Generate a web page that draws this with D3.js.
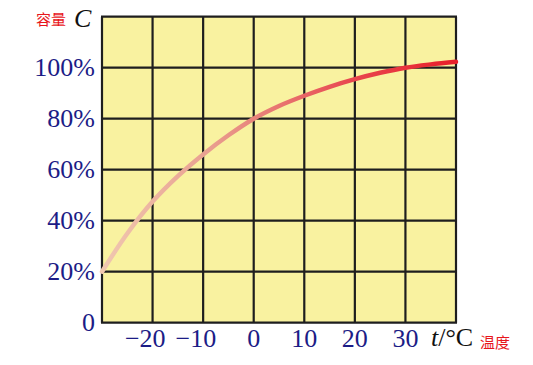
<!DOCTYPE html>
<html><head><meta charset="utf-8">
<script src="https://cdn.jsdelivr.net/npm/d3@7"></script>
<style>body{margin:0;background:#fff}svg{display:block}</style>
</head><body>
<script>
const temps = [-30,-25,-20,-15,-10,-5,0,5,10,15,20,25,30,35,40];
const capacity = [20,35,47.5,57.5,66,73.5,80,85,89,92.5,95.5,98,100,101.3,102.3];
const xTicks = [-20,-10,0,10,20,30];
const yTicks = [0,20,40,60,80,100];
const yTickLabels = ["0","20%","40%","60%","80%","100%"];

const W=533,H=365;
const svg=d3.select("body").append("svg").attr("width",W).attr("height",H);
const x=d3.scaleLinear().domain([-30,40]).range([102,456]);
const y=d3.scaleLinear().domain([0,120]).range([322.7,16.7]);

svg.append("rect").attr("x",x(-30)).attr("y",y(120)).attr("width",x(40)-x(-30)).attr("height",y(0)-y(120)).attr("fill","#f9f2a0");

const g=svg.append("g").attr("stroke","#1e1e1e").attr("stroke-width",2.2);
d3.range(-30,41,10).forEach(v=>g.append("line").attr("x1",x(v)).attr("x2",x(v)).attr("y1",y(0)).attr("y2",y(120)));
d3.range(0,121,20).forEach(v=>g.append("line").attr("x1",x(-30)-1).attr("x2",x(40)+1).attr("y1",y(v)).attr("y2",y(v)));

const defs=svg.append("defs");
const grad=defs.append("linearGradient").attr("id","cg").attr("gradientUnits","userSpaceOnUse")
 .attr("x1",x(-30)).attr("x2",x(40)).attr("y1",0).attr("y2",0);
[[0,"#f0c8b0"],[0.3,"#e9a090"],[0.45,"#e88078"],[0.7,"#e84850"],[1,"#e8202a"]].forEach(s=>grad.append("stop").attr("offset",s[0]).attr("stop-color",s[1]));

const line=d3.line().x((d,i)=>x(temps[i])).y(d=>y(d)).curve(d3.curveCatmullRom);
svg.append("path").attr("d",line(capacity)).attr("fill","none").attr("stroke","url(#cg)").attr("stroke-width",4.5).attr("stroke-linecap","round");

const blue="#1c1c86";
const font="'Liberation Serif','Times New Roman',serif";
const fs=26;
svg.selectAll(".yl").data(yTicks).enter().append("text")
 .attr("x",95).attr("y",d=>y(d)+8).attr("text-anchor","end")
 .attr("font-family",font).attr("font-size",fs).attr("fill",blue)
 .text((d,i)=>yTickLabels[i]);

// x tick labels: digits centered on grid line, minus sign hangs left
const tmp=svg.append("text").attr("font-family",font).attr("font-size",fs).text("20");
const dw=tmp.node().getComputedTextLength(); tmp.remove();
const tmp1=svg.append("text").attr("font-family",font).attr("font-size",fs).text("0");
const dw1=tmp1.node().getComputedTextLength(); tmp1.remove();
svg.selectAll(".xl").data(xTicks).enter().append("text")
 .attr("x",d=>x(d)+(d===0?dw1:dw)/2).attr("y",347).attr("text-anchor","end")
 .attr("font-family",font).attr("font-size",fs).attr("fill",blue)
 .text(d=>d<0?"\u2212"+Math.abs(d):String(d));

svg.append("text").attr("x",431).attr("y",346).attr("font-family",font).attr("font-size",fs).attr("fill","#111")
 .html('<tspan font-style="italic">t</tspan>/\u00b0C');
svg.append("text").attr("x",480).attr("y",348).attr("font-family","'Noto Sans CJK SC',sans-serif").attr("font-size",15).attr("fill","#e8161b").text("温度");
svg.append("text").attr("x",36).attr("y",25).attr("font-family","'Noto Sans CJK SC',sans-serif").attr("font-size",15).attr("fill","#e8161b").text("容量");
svg.append("text").attr("x",74).attr("y",27).attr("font-family",font).attr("font-size",fs).attr("font-style","italic").attr("fill","#111").text("C");
</script>
</body></html>
